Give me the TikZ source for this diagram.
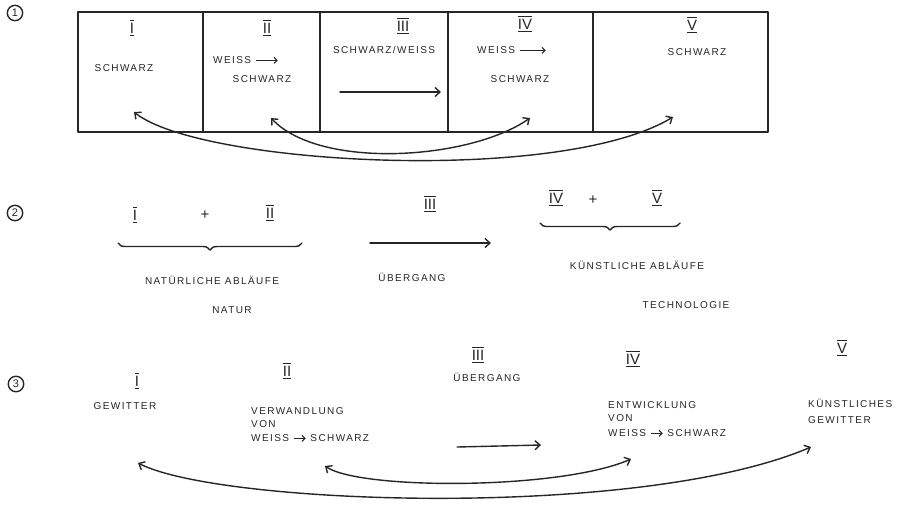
\documentclass[tikz,border=0pt]{standalone}
\usepackage{fontspec}
\setmainfont[LetterSpace=14]{Liberation Sans}
\newfontfamily\numfont{Liberation Sans}
\usetikzlibrary{arrows.meta,decorations.pathreplacing,calc}
\newcommand{\rn}[1]{\setbox0\hbox{\numfont #1}\rlap{\rule[-2.5pt]{\wd0}{1pt}}\rlap{\rule[\dimexpr\ht0+2pt\relax]{\wd0}{1pt}}\box0}
\newcommand{\hwarr}[1]{\tikz[baseline=-2.6pt]\draw[line width=1.1pt,black!85,-{Straight Barb[length=3pt,width=6pt]}] (0,0) -- (#1,0);}
\begin{document}
\begin{tikzpicture}[x=1pt,y=-1pt,line cap=round,line join=round,
  ink/.style={line width=1.4pt,black!85},
  cell/.style={draw,ink,rectangle,minimum height=120pt,inner sep=0pt},
  lbl/.style={font=\fontsize{10}{12}\selectfont,inner sep=1pt,text=black!85},
  lblL/.style={lbl,anchor=west},
  num/.style={font=\fontsize{15}{15}\selectfont,inner sep=0pt,text=black!85},
  circ/.style={draw,ink,circle,inner sep=2pt,font=\numfont\fontsize{11}{11}\selectfont},
  arr/.style={ink,-{Straight Barb[length=5pt,width=9pt]}},
  darr/.style={ink,{Straight Barb[length=5pt,width=9pt]}-{Straight Barb[length=5pt,width=9pt]}},
  brc/.style={ink,decorate,decoration={brace,mirror,amplitude=7pt}}]
\useasboundingbox (0,0) rectangle (904,507);
% ---------- row 1 ----------
\node[circ] (k1) at (15,13) {1};
\node[cell,minimum width=125pt] (c1) at (140.5,72) {};
\node[cell,minimum width=117pt] (c2) at (261.5,72) {};
\node[cell,minimum width=128pt] (c3) at (384,72) {};
\node[cell,minimum width=145pt] (c4) at (520.5,72) {};
\node[cell,minimum width=175pt] (c5) at (680.5,72) {};
\node[num] (r1a) at (132,28) {\rn{I}};
\node[num] (r1b) at (267,28) {\rn{II}};
\node[num] (r1c) at (403,26) {\rn{III}};
\node[num] (r1d) at (525,24) {\rn{IV}};
\node[num] (r1e) at (692,25) {\rn{V}};
\node[lbl] (t1a) at (124,68) {SCHWARZ};
\node[lblL] (t1b) at (212,60) {WEISS \hwarr{22pt}};
\node[lbl] (t1b2) at (262,79) {SCHWARZ};
\node[lbl] (t1c) at (384,50) {SCHWARZ/WEISS};
\coordinate (a3s) at (340,92);
\coordinate (a3e) at (441,92);
\draw[arr] (a3s) -- (a3e);
\node[lblL] (t1d) at (476,50) {WEISS \hwarr{26pt}};
\node[lbl] (t1d2) at (520,79) {SCHWARZ};
\node[lbl] (t1e) at (697,52) {SCHWARZ};
\coordinate (p1a) at (134,112);
\coordinate (p1b) at (271,118);
\coordinate (p1d) at (530,118);
\coordinate (p1e) at (673,117);
\draw[darr] (p1a) .. controls (200,165) and (560,185) .. (p1e);
\draw[darr] (p1b) .. controls (320,170) and (470,160) .. (p1d);
% ---------- row 2 ----------
\node[circ] (k2) at (15,213) {2};
\node[num] (r2a) at (135,215) {\rn{I}};
\node[num] (p2a) at (205,215) {+};
\node[num] (r2b) at (270,213) {\rn{II}};
\coordinate (b1s) at (118,243);
\coordinate (b1e) at (302,243);
\draw[brc] (b1s) -- (b1e);
\node[lbl] (t2a) at (212,280) {NATÜRLICHE ABLÄUFE};
\node[lbl] (t2b) at (232,310) {NATUR};
\node[num] (r2c) at (430,204) {\rn{III}};
\coordinate (a2s) at (370,243);
\coordinate (a2e) at (491,243);
\draw[arr] (a2s) -- (a2e);
\node[lbl] (t2c) at (412,277) {ÜBERGANG};
\node[num] (r2d) at (556,198) {\rn{IV}};
\node[num] (p2b) at (593,200) {+};
\node[num] (r2e) at (657,198) {\rn{V}};
\coordinate (b2s) at (540,223);
\coordinate (b2e) at (680,223);
\draw[brc] (b2s) -- (b2e);
\node[lbl] (t2d) at (637,265) {KÜNSTLICHE ABLÄUFE};
\node[lbl] (t2e) at (686,305) {TECHNOLOGIE};
% ---------- row 3 ----------
\node[circ] (k3) at (16,384) {3};
\node[num] (r3a) at (137,381) {\rn{I}};
\node[lbl] (t3a) at (125,406) {GEWITTER};
\node[num] (r3b) at (287,371) {\rn{II}};
\node[lblL] (t3b1) at (250,411) {VERWANDLUNG};
\node[lblL] (t3b2) at (250,424) {VON};
\node[lblL] (t3b3) at (250,438) {WEISS \hwarr{12pt} SCHWARZ};
\node[num] (r3c) at (478,355) {\rn{III}};
\node[lbl] (t3c) at (487,377) {ÜBERGANG};
\coordinate (a4s) at (457,447);
\coordinate (a4e) at (541,445);
\draw[arr] (a4s) -- (a4e);
\node[num] (r3d) at (633,359) {\rn{IV}};
\node[lblL] (t3d1) at (607,405) {ENTWICKLUNG};
\node[lblL] (t3d2) at (607,418) {VON};
\node[lblL] (t3d3) at (607,433) {WEISS \hwarr{12pt} SCHWARZ};
\node[num] (r3e) at (842,348) {\rn{V}};
\node[lblL] (t3e1) at (807,403) {KÜNSTLICHES};
\node[lblL] (t3e2) at (807,420) {GEWITTER};
\coordinate (q1a) at (138,463);
\coordinate (q1b) at (325,466);
\coordinate (q1d) at (631,459);
\coordinate (q1e) at (811,447);
\draw[darr] (q1a) .. controls (220,505) and (640,520) .. (q1e);
\draw[darr] (q1b) .. controls (360,490) and (560,490) .. (q1d);
\end{tikzpicture}
\end{document}
